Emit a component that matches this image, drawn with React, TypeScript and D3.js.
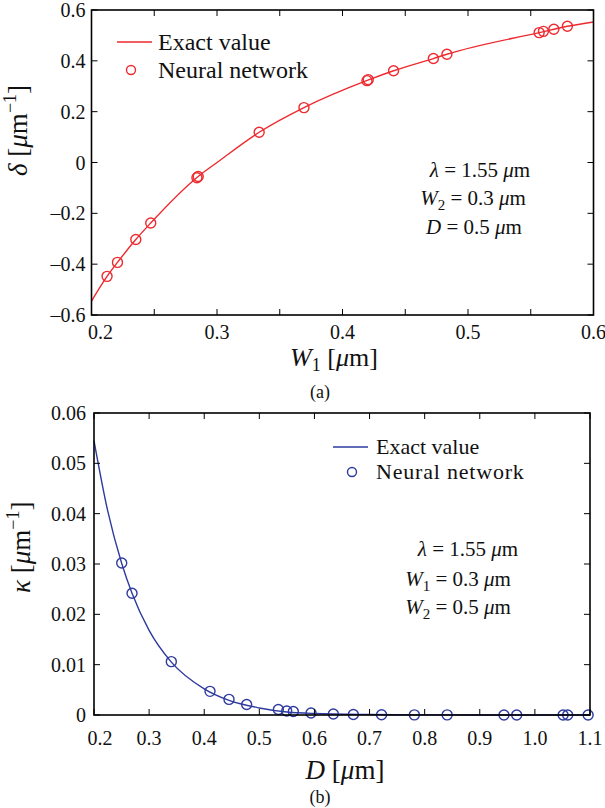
import React from "react";
import * as d3 from "d3";

// ---- Panel (a) data ----
const aCurveW = [0.2, 0.2124, 0.2207, 0.2353, 0.2472, 0.2845, 0.3, 0.3336, 0.3693, 0.4202, 0.4407, 0.4724, 0.4832, 0.5567, 0.5792, 0.6];
const aCurveDelta = [-0.545, -0.448, -0.393, -0.303, -0.238, -0.057, 0.0, 0.119, 0.216, 0.324, 0.361, 0.409, 0.426, 0.511, 0.536, 0.553];
const aNetW = [0.2124, 0.2207, 0.2353, 0.2472, 0.2840, 0.2850, 0.3336, 0.3693, 0.4195, 0.4205, 0.4407, 0.4724, 0.4832, 0.5567, 0.5601, 0.5684, 0.5792];
const aNetDelta = [-0.448, -0.393, -0.303, -0.238, -0.060, -0.055, 0.119, 0.216, 0.322, 0.326, 0.361, 0.409, 0.426, 0.511, 0.516, 0.524, 0.536];
const aXTickLabels = ["0.2", "0.3", "0.4", "0.5", "0.6"];
const aYTickLabels = ["\u20130.6", "\u20130.4", "\u20130.2", "0", "0.2", "0.4", "0.6"];

// ---- Panel (b) data ----
const bCurveD = [0.2, 0.225, 0.2503, 0.269, 0.3, 0.3403, 0.4, 0.445, 0.5, 0.55, 0.6, 0.7, 0.8, 0.9, 1.0, 1.1];
const bCurveKappa = [0.0545, 0.0405, 0.0301, 0.0242, 0.0168, 0.0105, 0.0052, 0.0029, 0.0014, 0.0006, 0.0003, 0.0001, 0.00003, 0.00001, 0.000003, 0.000001];
const bNetD = [0.2503, 0.269, 0.3403, 0.4105, 0.445, 0.477, 0.5345, 0.5497, 0.5617, 0.5938, 0.6343, 0.6706, 0.7218, 0.7813, 0.8408, 0.9439, 0.967, 1.0512, 1.0595, 1.0966];
const bNetKappa = [0.0302, 0.0242, 0.0106, 0.0047, 0.0031, 0.0021, 0.0011, 0.0008, 0.0007, 0.0004, 0.0002, 0.0001, 0.00005, 0.00003, 0.00002, 0.00001, 0.00001, 0.000005, 0.000005, 0.000003];
const bXTickLabels = ["0.2", "0.3", "0.4", "0.5", "0.6", "0.7", "0.8", "0.9", "1.0", "1.1"];
const bYTickLabels = ["0", "0.01", "0.02", "0.03", "0.04", "0.05", "0.06"];

const RED = "#ee2a2f";
const BLUE = "#2e3a9e";
const FONT = "Liberation Serif, Times New Roman, DejaVu Serif, serif";

function Box({ x0, x1, y0, y1, xTicks, yTicks, xs, ys }: any) {
  const tl = 6;
  return (
    <g stroke="#000" fill="none">
      {xTicks.map((v: number, i: number) => (
        <g key={"x" + i} strokeWidth={1}>
          <line x1={xs(v)} x2={xs(v)} y1={y1} y2={y1 - tl} />
          <line x1={xs(v)} x2={xs(v)} y1={y0} y2={y0 + tl} />
        </g>
      ))}
      {yTicks.map((v: number, i: number) => (
        <g key={"y" + i} strokeWidth={1}>
          <line x1={x0} x2={x0 + tl} y1={ys(v)} y2={ys(v)} />
          <line x1={x1} x2={x1 - tl} y1={ys(v)} y2={ys(v)} />
        </g>
      ))}
      <rect x={x0} y={y0} width={x1 - x0} height={y1 - y0} strokeWidth={1.6} />
    </g>
  );
}

export default function App() {
  const aX0 = 91.5, aX1 = 593.5, aY0 = 10, aY1 = 315;
  const ax = d3.scaleLinear().domain([0.2, 0.6]).range([aX0, aX1]);
  const ay = d3.scaleLinear().domain([-0.6, 0.6]).range([aY1, aY0]);
  const aLine = d3.line<number>().x((_, i) => ax(aCurveW[i])).y((d) => ay(d)).curve(d3.curveMonotoneX);

  const bX0 = 94, bX1 = 590, bY0 = 413, bY1 = 715;
  const bx = d3.scaleLinear().domain([0.2, 1.1]).range([bX0, bX1]);
  const by = d3.scaleLinear().domain([0, 0.06]).range([bY1, bY0]);
  const bLine = d3.line<number>().x((_, i) => bx(bCurveD[i])).y((d) => by(d)).curve(d3.curveMonotoneX);

  const aXTicks = d3.range(0, 9).map((i) => 0.2 + i * 0.05);
  const aYTicks = aYTickLabels.map((_, i) => -0.6 + i * 0.2);
  const bXTicks = bXTickLabels.map((_, i) => 0.2 + i * 0.1);
  const bYTicks = bYTickLabels.map((_, i) => i * 0.01);

  const tickFs = 20;
  return (
    <svg width={605} height={808} style={{ position: "absolute", left: 0, top: 0, background: "#fff", fontFamily: FONT }}>
      <rect width={605} height={808} fill="#fff" />
      {/* ===== Panel (a) ===== */}
      <path d={aLine(aCurveDelta) || ""} fill="none" stroke={RED} strokeWidth={1.4} />
      {aNetW.map((w, i) => (
        <circle key={i} cx={ax(w)} cy={ay(aNetDelta[i])} r={5} fill="none" stroke={RED} strokeWidth={1.4} />
      ))}
      <Box x0={aX0} x1={aX1} y0={aY0} y1={aY1} xTicks={aXTicks} yTicks={aYTicks} xs={ax} ys={ay} />
      {aXTickLabels.map((t, i) => (
        <text key={i} x={ax(0.2 + i * 0.1) + (i === 0 ? 9 : 0)} y={aY1 + 24} fontSize={tickFs} textAnchor="middle" fill="#111">{t}</text>
      ))}
      {aYTickLabels.map((t, i) => (
        <text key={i} x={aX0 - 6} y={ay(aYTicks[i]) + 7} fontSize={tickFs} textAnchor="end" fill="#111">{t}</text>
      ))}
      <text x={334} y={366} fontSize={26} textAnchor="middle" fill="#111">
        <tspan fontStyle="italic">W</tspan>
        <tspan fontSize={18} dy={5}>1</tspan>
        <tspan dy={-5}> [</tspan>
        <tspan fontStyle="italic">μ</tspan>
        <tspan>m]</tspan>
      </text>
      <text x={320} y={398} fontSize={18} textAnchor="middle" fill="#111">(a)</text>
      <text transform="translate(27,176) rotate(-90)" fontSize={27} fill="#111">
        <tspan fontStyle="italic">δ</tspan>
        <tspan> [</tspan>
        <tspan fontStyle="italic">μ</tspan>
        <tspan>m</tspan>
        <tspan fontSize={18} dy={-11}>−1</tspan>
        <tspan dy={11}>]</tspan>
      </text>
      {/* legend a */}
      <line x1={117} x2={152} y1={42} y2={42} stroke={RED} strokeWidth={1.4} />
      <text x={158} y={50} fontSize={24} fill="#111">Exact value</text>
      <circle cx={131} cy={70} r={4.5} fill="none" stroke={RED} strokeWidth={1.4} />
      <text x={158} y={78} fontSize={24} fill="#111">Neural network</text>
      {/* annotation a */}
      <g fontSize={21} fill="#111" textAnchor="middle">
        <text x={480} y={177}><tspan fontStyle="italic">λ</tspan> = 1.55 <tspan fontStyle="italic">μ</tspan>m</text>
        <text x={473} y={205}><tspan fontStyle="italic">W</tspan><tspan fontSize={15} dy={5}>2</tspan><tspan dy={-5}> = 0.3 </tspan><tspan fontStyle="italic">μ</tspan>m</text>
        <text x={474} y={234}><tspan fontStyle="italic">D</tspan> = 0.5 <tspan fontStyle="italic">μ</tspan>m</text>
      </g>

      {/* ===== Panel (b) ===== */}
      <path d={bLine(bCurveKappa) || ""} fill="none" stroke={BLUE} strokeWidth={1.4} />
      {bNetD.map((dd, i) => (
        <circle key={i} cx={bx(dd)} cy={by(bNetKappa[i])} r={5} fill="none" stroke={BLUE} strokeWidth={1.4} />
      ))}
      <Box x0={bX0} x1={bX1} y0={bY0} y1={bY1} xTicks={bXTicks} yTicks={bYTicks} xs={bx} ys={by} />
      {bXTickLabels.map((t, i) => (
        <text key={i} x={bx(bXTicks[i]) + (i === 0 ? 6 : 0)} y={bY1 + 30} fontSize={tickFs} textAnchor="middle" fill="#111">{t}</text>
      ))}
      {bYTickLabels.map((t, i) => (
        <text key={i} x={bX0 - 8} y={by(bYTicks[i]) + 7} fontSize={tickFs} textAnchor="end" fill="#111">{t}</text>
      ))}
      <text x={345} y={779} fontSize={27} textAnchor="middle" fill="#111">
        <tspan fontStyle="italic">D</tspan>
        <tspan> [</tspan>
        <tspan fontStyle="italic">μ</tspan>
        <tspan>m]</tspan>
      </text>
      <text x={320} y={803} fontSize={18} textAnchor="middle" fill="#111">(b)</text>
      <text transform="translate(30,593) rotate(-90)" fontSize={27} fill="#111">
        <tspan fontStyle="italic">κ</tspan>
        <tspan> [</tspan>
        <tspan fontStyle="italic">μ</tspan>
        <tspan>m</tspan>
        <tspan fontSize={18} dy={-11}>−1</tspan>
        <tspan dy={11}>]</tspan>
      </text>
      {/* legend b */}
      <line x1={333} x2={368} y1={447} y2={447} stroke={BLUE} strokeWidth={1.4} />
      <text x={376} y={454} fontSize={22} fill="#111">Exact value</text>
      <circle cx={352} cy={472} r={4.5} fill="none" stroke={BLUE} strokeWidth={1.4} />
      <text x={376} y={479} fontSize={22} fill="#111" letterSpacing={0.8}>Neural network</text>
      {/* annotation b */}
      <g fontSize={21} fill="#111" textAnchor="middle">
        <text x={468} y={556}><tspan fontStyle="italic">λ</tspan> = 1.55 <tspan fontStyle="italic">μ</tspan>m</text>
        <text x={458} y={586}><tspan fontStyle="italic">W</tspan><tspan fontSize={15} dy={5}>1</tspan><tspan dy={-5}> = 0.3 </tspan><tspan fontStyle="italic">μ</tspan>m</text>
        <text x={458} y={614}><tspan fontStyle="italic">W</tspan><tspan fontSize={15} dy={5}>2</tspan><tspan dy={-5}> = 0.5 </tspan><tspan fontStyle="italic">μ</tspan>m</text>
      </g>
    </svg>
  );
}
